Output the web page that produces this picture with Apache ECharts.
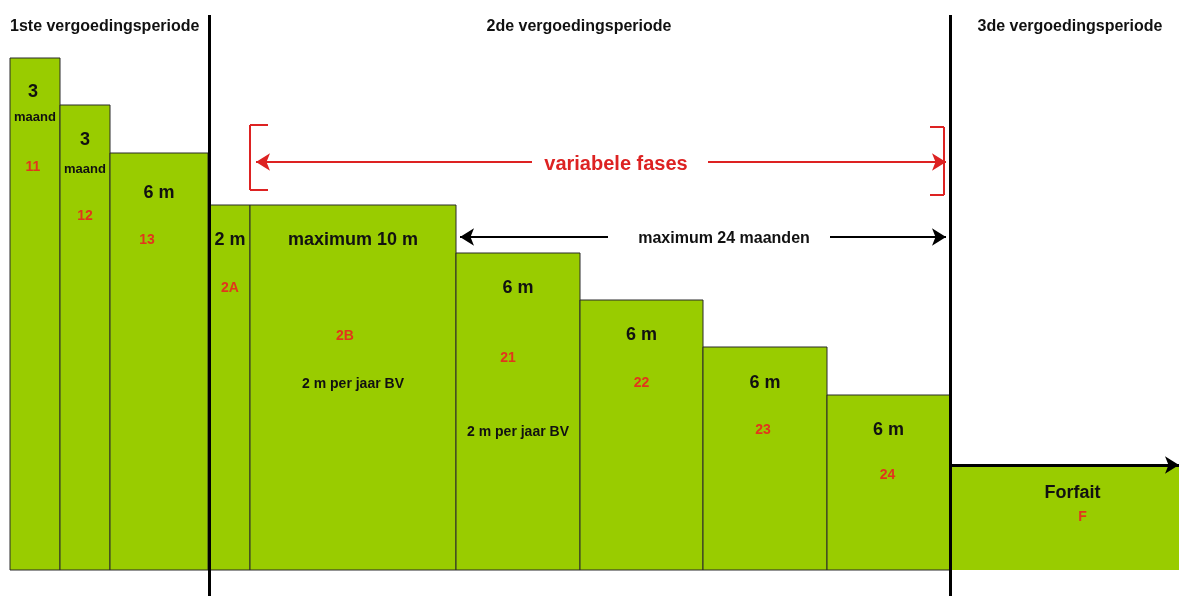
<!DOCTYPE html>
<html>
<head>
<meta charset="utf-8">
<script src="https://cdn.jsdelivr.net/npm/echarts@6/dist/echarts.min.js"></script>
<style>
  html, body { margin: 0; padding: 0; background: #fff; }
  #chart { width: 1179px; height: 596px; }
</style>
</head>
<body>
<div id="chart"></div>
<script>
// fasen (x in schaaleenheden, hoogte = niveau van de uitkering)
var phases = ['11', '12', '13', '2A', '2B', '21', '22', '23', '24', 'F']
var phaseStart = [10, 60, 110, 210, 250, 456, 580, 703, 827, 950]
var phaseEnd = [60, 110, 208, 250, 456, 580, 703, 827, 950, 1179]
var phaseLevel = [538, 491, 443, 391, 391, 343, 296, 249, 201, 131]
var baseLevel = 26
var mainLabels = ['3', '3', '6 m', '2 m', 'maximum 10 m', '6 m', '6 m', '6 m', '6 m', 'Forfait']
var unitLabels = ['maand', 'maand', '', '', '', '', '', '', '', '']
var noteLabels = ['', '', '', '', '2 m per jaar BV', '2 m per jaar BV', '', '', '', '']

// periodes
var periodNames = ['1ste vergoedingsperiode', '2de vergoedingsperiode', '3de vergoedingsperiode']
var periodBorders = [209, 950]

// tekstpositie (px): hoofd dy, eenheid dy, code dy, noot dy, hoofd dx, code dx
var textOffsets = [
  [34, 59, 109, 0, -2, -2], [35, 64, 111, 0, 0, 0], [40, 0, 87, 0, 0, -12],
  [35, 0, 83, 0, 0, 0], [35, 0, 131, 179, 0, -8], [35, 0, 105, 179, 0, -10],
  [35, 0, 83, 0, 0, 0], [36, 0, 83, 0, 0, -2], [35, 0, 80, 0, 0, -1], [28, 0, 52, 0, 8, 18]
]

var GREEN = '#99cc00'
var RED = '#dd2222'
var CODE_RED = '#e2361c'
var FONT = 'Liberation Sans, Arial, sans-serif'

var barData = phases.map(function (p, i) {
  return [phaseStart[i], phaseEnd[i], phaseLevel[i]]
})

function renderBar(params, api) {
  var i = params.dataIndex
  var p0 = api.coord([api.value(0), api.value(2)])
  var p1 = api.coord([api.value(1), baseLevel])
  var cx = (p0[0] + p1[0]) / 2
  var off = textOffsets[i]
  var isForfait = phases[i] === 'F'
  var children = [{
    type: 'rect',
    shape: { x: p0[0], y: p0[1], width: p1[0] - p0[0], height: p1[1] - p0[1] },
    style: { fill: GREEN, stroke: isForfait ? null : '#2b2b2b', lineWidth: 1 }
  }]
  var txt = function (text, dx, dy, size, color) {
    children.push({
      type: 'text',
      style: {
        text: text, x: cx + dx, y: p0[1] + dy, align: 'center', verticalAlign: 'middle',
        fill: color, font: 'bold ' + size + 'px ' + FONT
      }
    })
  }
  txt(mainLabels[i], off[4], off[0], 18, '#111')
  if (unitLabels[i]) txt(unitLabels[i], 0, off[1], 13, '#111')
  txt(phases[i], off[5], off[2], 14, CODE_RED)
  if (noteLabels[i]) txt(noteLabels[i], 0, off[3], 14, '#111')
  return { type: 'group', children: children }
}

var seg = function (a, b, color, width, arrow) {
  return [
    { coord: a, symbol: 'none', lineStyle: { color: color, width: width, type: 'solid' } },
    { coord: b, symbol: arrow ? 'arrow' : 'none', symbolSize: arrow ? [13, 14] : 0 }
  ]
}

var lines = [
  // periodegrenzen
  seg([periodBorders[0], 0], [periodBorders[0], 581], '#000', 3, false),
  seg([periodBorders[1], 0], [periodBorders[1], 581], '#000', 3, false),
  // variabele fases
  seg([532, 434], [256, 434], RED, 2, true),
  seg([708, 434], [946, 434], RED, 2, true),
  seg([268, 471], [250, 471], RED, 2, false),
  seg([250, 471], [250, 406], RED, 2, false),
  seg([250, 406], [268, 406], RED, 2, false),
  seg([930, 469], [944, 469], RED, 2, false),
  seg([944, 469], [944, 401], RED, 2, false),
  seg([944, 401], [930, 401], RED, 2, false),
  // maximum 24 maanden
  seg([608, 359], [460, 359], '#000', 2, true),
  seg([830, 359], [946, 359], '#000', 2, true),
  // forfait
  seg([950, 131], [1179, 131], '#000', 3, true)
]

var notes = [
  { value: [10, 569], name: periodNames[0], align: 'left', color: '#111', size: 16 },
  { value: [579, 569], name: periodNames[1], align: 'center', color: '#111', size: 16 },
  { value: [1070, 569], name: periodNames[2], align: 'center', color: '#111', size: 16 },
  { value: [616, 432], name: 'variabele fases', align: 'center', color: RED, size: 20 },
  { value: [724, 357], name: 'maximum 24 maanden', align: 'center', color: '#111', size: 16 }
]

var chart = echarts.init(document.getElementById('chart'))
chart.setOption({
  animation: false,
  grid: { left: 0, right: 0, top: 0, bottom: 0 },
  xAxis: { type: 'value', min: 0, max: 1179, show: false },
  yAxis: { type: 'value', min: 0, max: 596, show: false },
  series: [
    {
      name: 'fasen',
      type: 'custom',
      renderItem: renderBar,
      data: barData,
      markLine: { silent: true, label: { show: false }, data: lines }
    },
    {
      name: 'teksten',
      type: 'scatter',
      symbolSize: 0,
      silent: true,
      itemStyle: { opacity: 1 },
      data: notes.map(function (n) {
        return {
          value: n.value, name: n.name,
          label: {
            show: true, position: 'inside', formatter: '{b}', align: n.align,
            color: n.color, fontSize: n.size, fontWeight: 'bold', fontFamily: FONT
          }
        }
      })
    }
  ]
})
</script>
</body>
</html>
